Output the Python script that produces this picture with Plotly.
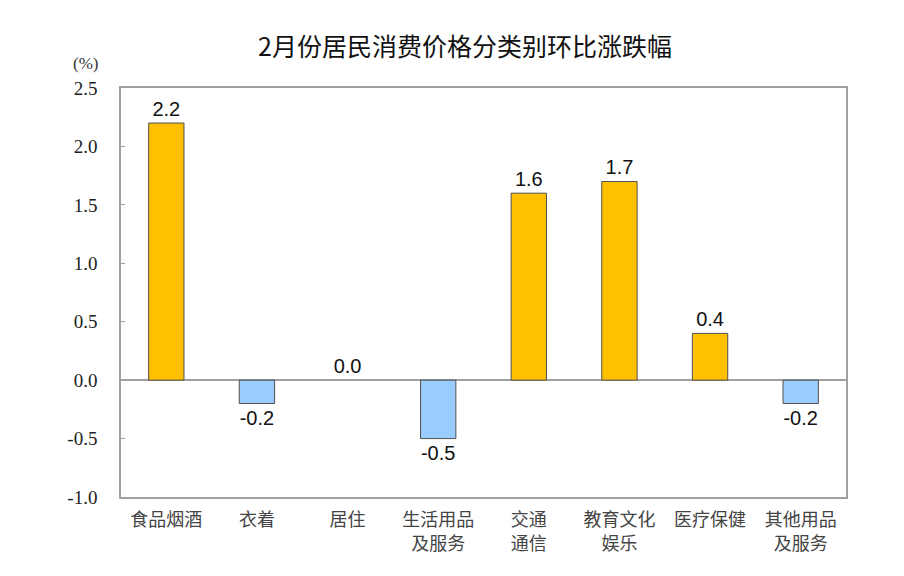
import plotly.graph_objects as go

categories = ["食品烟酒", "衣着", "居住", "生活用品<br>及服务", "交通<br>通信",
              "教育文化<br>娱乐", "医疗保健", "其他用品<br>及服务"]
values = [2.2, -0.2, 0.0, -0.5, 1.6, 1.7, 0.4, -0.2]
y_ticks = [-1.0, -0.5, 0.0, 0.5, 1.0, 1.5, 2.0, 2.5]

POS_COLOR = "#FFC000"
NEG_COLOR = "#99CCFF"
AXIS_GRAY = "#A0A0A0"

# page is drawn with an 8px body offset, so margins are shifted by 8px
OFF = 8

colors = [POS_COLOR if v >= 0 else NEG_COLOR for v in values]
outline_w = [1 if v != 0 else 0 for v in values]

fig = go.Figure(
    go.Bar(
        x=categories,
        y=values,
        width=0.39,
        marker=dict(color=colors, line=dict(color="#505050", width=outline_w)),
        text=[f"{v:.1f}" for v in values],
        textposition="outside",
        textfont=dict(family="Liberation Sans, Arial", size=20, color="#111111"),
        cliponaxis=False,
    )
)

fig.update_layout(
    width=904,
    height=576,
    margin=dict(l=121 - OFF, r=58 + OFF, t=88 - OFF, b=79 + OFF),
    paper_bgcolor="white",
    plot_bgcolor="white",
    showlegend=False,
    title=dict(
        text="2月份居民消费价格分类别环比涨跌幅",
        x=(465 - OFF) / 904,
        xanchor="center",
        y=1 - (47 - OFF) / 576,
        yanchor="middle",
        font=dict(family="Noto Sans CJK SC", size=25, color="#111111"),
    ),
    annotations=[
        dict(
            text="(%)",
            xref="paper",
            yref="paper",
            x=-36 / 725,
            y=1 + 25 / 409,
            xanchor="center",
            yanchor="middle",
            showarrow=False,
            font=dict(family="Liberation Serif", size=17, color="#333333"),
        )
    ],
)

fig.update_xaxes(
    showline=True,
    mirror=True,
    linecolor=AXIS_GRAY,
    linewidth=1.5,
    tickfont=dict(family="Noto Sans CJK SC", size=18, color="#444444"),
    ticks="",
    ticklabelstandoff=6,
)

fig.update_yaxes(
    range=[-1.0, 2.5],
    tickvals=y_ticks,
    ticktext=[f"{v:.1f}" for v in y_ticks],
    tickfont=dict(family="Liberation Serif", size=19, color="#222222"),
    showgrid=False,
    zeroline=True,
    zerolinecolor=AXIS_GRAY,
    zerolinewidth=1.5,
    showline=True,
    mirror=True,
    linecolor=AXIS_GRAY,
    linewidth=1.5,
    ticks="inside",
    ticklen=4,
    tickcolor=AXIS_GRAY,
    ticklabelstandoff=18,
)

fig.write_html("out.html")
